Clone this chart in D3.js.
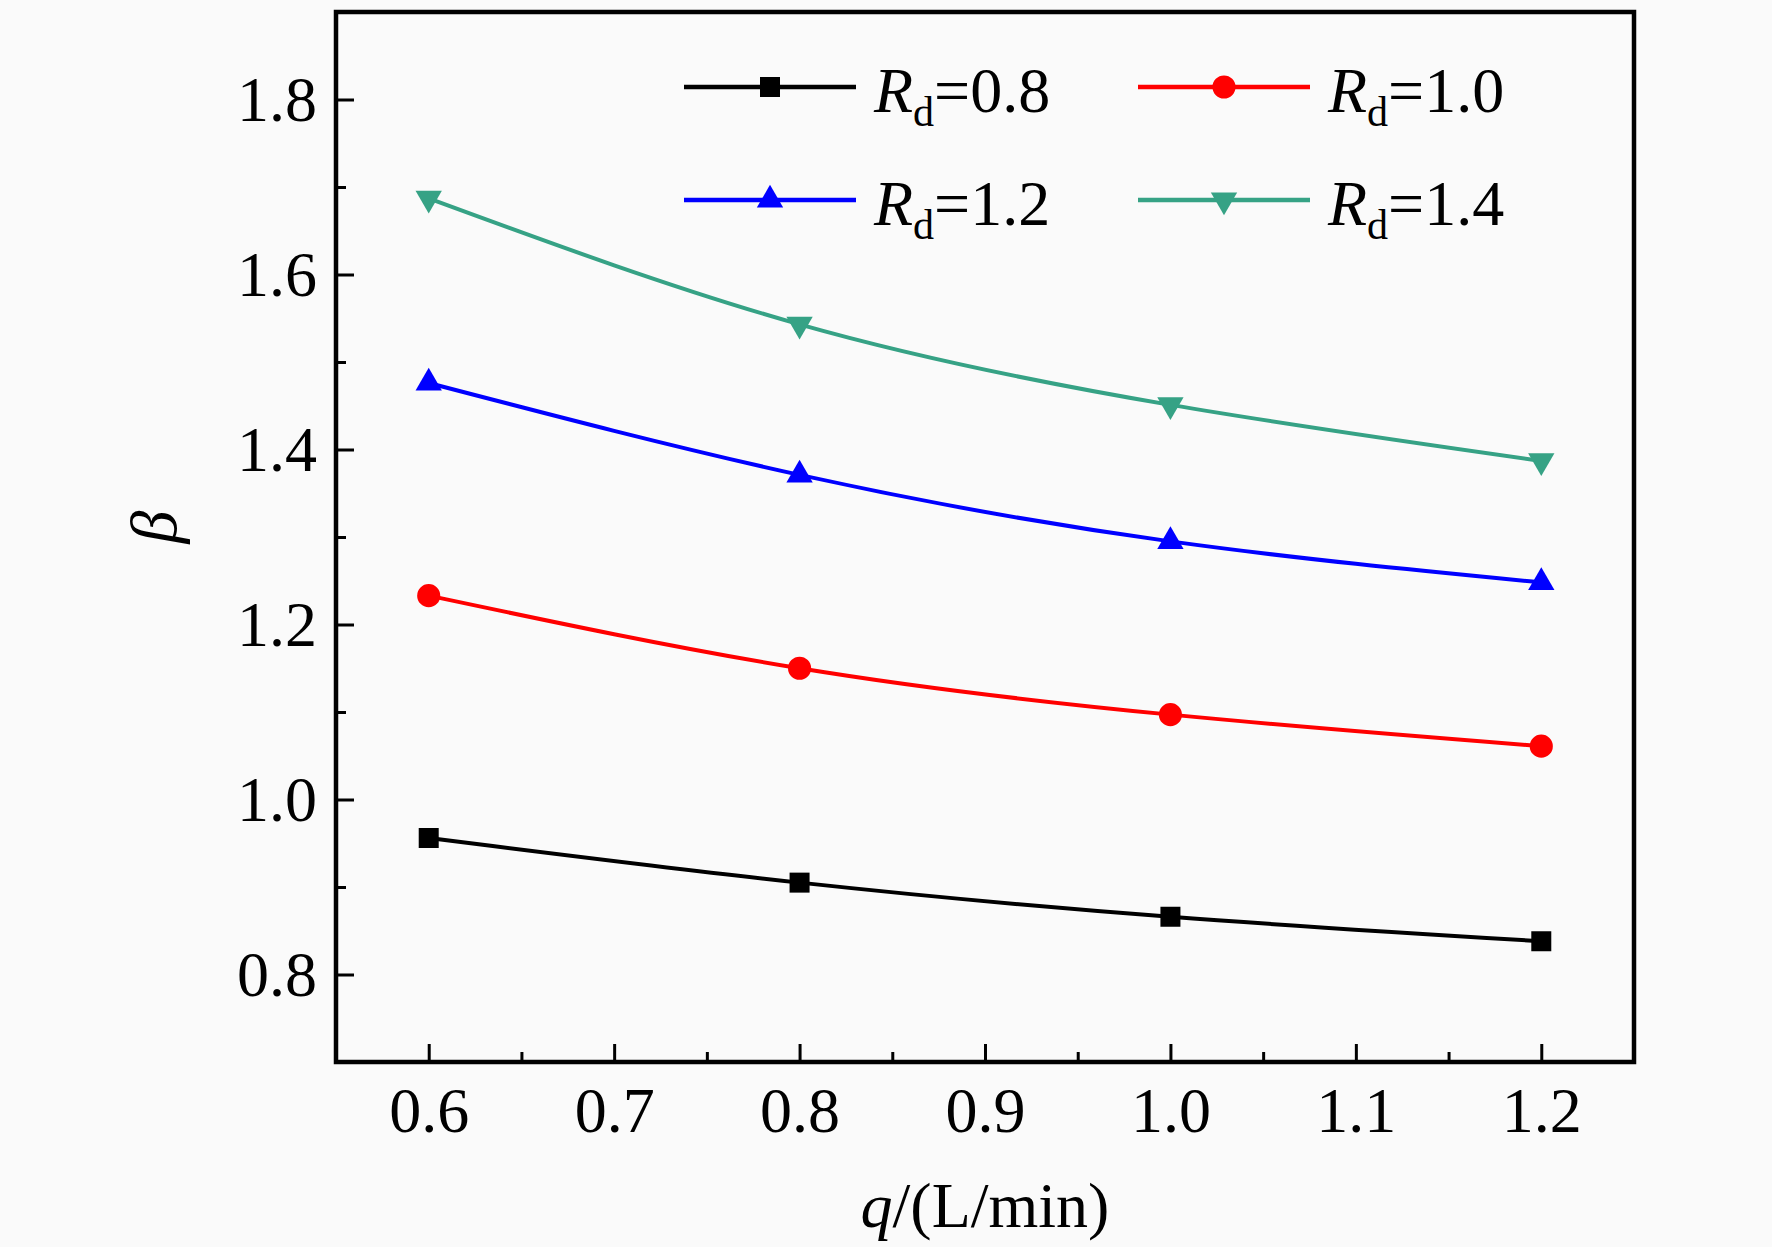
<!DOCTYPE html>
<html>
<head>
<meta charset="utf-8">
<script src="https://cdn.jsdelivr.net/npm/d3@7"></script>
<style>
  html, body { margin: 0; padding: 0; background: #fafafa; }
  text { font-family: "Liberation Serif", "Times New Roman", serif; fill: #000; }
</style>
</head>
<body>
<script>
// values
var flows = [0.6, 0.8, 1.0, 1.2];
var rd08 = [0.956, 0.905, 0.866, 0.838];
var rd10 = [1.233, 1.150, 1.097, 1.061];
var rd12 = [1.476, 1.371, 1.295, 1.248];
var rd14 = [1.687, 1.543, 1.451, 1.387];
var seriesNames = ['0.8', '1.0', '1.2', '1.4'];
var xTicks = [0.6, 0.7, 0.8, 0.9, 1.0, 1.1, 1.2];
var xMinor = [0.65, 0.75, 0.85, 0.95, 1.05, 1.15];
var yTicks = [0.8, 1.0, 1.2, 1.4, 1.6, 1.8];
var yMinor = [0.9, 1.1, 1.3, 1.5, 1.7];

var W = 1772, H = 1247;
var margin = { top: 12, right: 138, bottom: 185, left: 336 },
  width = W - margin.left - margin.right,
  height = H - margin.top - margin.bottom;

var svg = d3.select('body').append('svg')
  .attr('width', W)
  .attr('height', H);

var g = svg.append('g')
  .attr('transform', 'translate(' + margin.left + ',' + margin.top + ')');

var x = d3.scaleLinear().domain([0.55, 1.25]).range([0, width]);
var y = d3.scaleLinear().domain([0.7, 1.9]).range([height, 0]);

var fmt = d3.format('.1f');

// axes, ticks pointing inward
var xAxis = g.append('g')
  .attr('transform', 'translate(0,' + height + ')')
  .call(d3.axisBottom(x).tickValues(xTicks).tickSize(-18).tickPadding(25).tickFormat(fmt));
g.append('g')
  .attr('transform', 'translate(0,' + height + ')')
  .call(d3.axisBottom(x).tickValues(xMinor).tickSize(-10).tickFormat(''));
var yAxis = g.append('g')
  .call(d3.axisLeft(y).tickValues(yTicks).tickSize(-18).tickPadding(19).tickFormat(fmt));
g.append('g')
  .call(d3.axisLeft(y).tickValues(yMinor).tickSize(-10).tickFormat(''));

g.selectAll('.domain').remove();
g.selectAll('.tick line').attr('stroke', '#000').attr('stroke-width', 3);
g.selectAll('.tick text')
  .style('font-family', '"Liberation Serif", "Times New Roman", serif')
  .style('font-size', '64px')
  .attr('fill', '#000');
yAxis.selectAll('.tick text').attr('dy', '0.33em');

g.append('rect')
  .attr('width', width)
  .attr('height', height)
  .attr('fill', 'none')
  .attr('stroke', '#000')
  .attr('stroke-width', 4.5);

// axis titles
var xt = svg.append('text')
  .attr('x', margin.left + x(0.9))
  .attr('y', 1227)
  .style('text-anchor', 'middle')
  .style('font-size', '64px');
xt.append('tspan').style('font-style', 'italic').text('q');
xt.append('tspan').text('/(L/min)');

svg.append('text')
  .attr('transform', 'translate(176,' + (margin.top + y(1.3) - 10) + ') rotate(-90)')
  .style('text-anchor', 'middle')
  .style('font-size', '66px')
  .style('font-style', 'italic')
  .text('β');

// series
var colors = ['#000000', '#ff0000', '#0000ff', '#36a285'];
var symbols = [d3.symbolSquare, d3.symbolCircle, d3.symbolTriangle, d3.symbolTriangle];
var sizes = [400, 420, 300, 300];
var rotations = [0, 0, 0, 180];
var allSeries = [rd08, rd10, rd12, rd14];

var line = d3.line()
  .x(function(d) { return x(d[0]); })
  .y(function(d) { return y(d[1]); })
  .curve(d3.curveNatural);

allSeries.forEach(function(vals, i) {
  var pts = flows.map(function(f, j) { return [f, vals[j]]; });
  g.append('path')
    .datum(pts)
    .attr('d', line)
    .attr('fill', 'none')
    .attr('stroke', colors[i])
    .attr('stroke-width', 4);
  g.selectAll('.m' + i)
    .data(pts)
    .enter()
    .append('path')
    .attr('class', 'm' + i)
    .attr('d', d3.symbol().type(symbols[i]).size(sizes[i]))
    .attr('transform', function(d) {
      return 'translate(' + x(d[0]) + ',' + y(d[1]) + ') rotate(' + rotations[i] + ')';
    })
    .attr('fill', colors[i]);
});

// legend
var legPos = [[684, 87], [1138, 87], [684, 200], [1138, 200]];
seriesNames.forEach(function(name, i) {
  var lx = legPos[i][0], ly = legPos[i][1];
  var lg = svg.append('g').attr('transform', 'translate(' + lx + ',' + ly + ')');
  lg.append('line')
    .attr('x1', 0).attr('x2', 172)
    .attr('y1', 0).attr('y2', 0)
    .attr('stroke', colors[i])
    .attr('stroke-width', 4.5);
  lg.append('path')
    .attr('d', d3.symbol().type(symbols[i]).size(sizes[i]))
    .attr('transform', 'translate(86,0) rotate(' + rotations[i] + ')')
    .attr('fill', colors[i]);
  var t = lg.append('text')
    .attr('x', 190)
    .attr('y', 25)
    .style('font-size', '64px');
  t.append('tspan').style('font-style', 'italic').text('R');
  t.append('tspan').attr('dy', 14).style('font-size', '42px').text('d');
  t.append('tspan').attr('dy', -14).text('=' + name);
});
</script>
</body>
</html>
